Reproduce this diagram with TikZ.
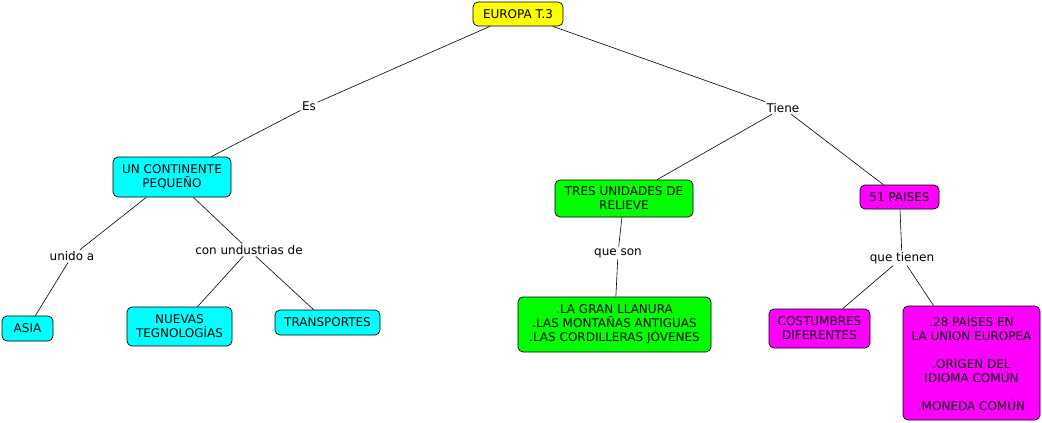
\documentclass[tikz,border=0pt]{standalone}
\usepackage{fontspec}
\setmainfont{DejaVu Sans}
\begin{document}
\begin{tikzpicture}[x=1pt,y=-1pt,
  font=\fontsize{12}{14}\selectfont,
  box/.style={draw=black, line width=0.7pt, rounded corners=5pt, align=center, inner sep=1pt},
  lbl/.style={inner sep=1.5pt, align=center},
  conn/.style={draw=black, line width=0.6pt}]
\useasboundingbox (0,0) rectangle (1042,423);
\definecolor{cy}{HTML}{00FFFF}
\definecolor{gr}{HTML}{00FF00}
\definecolor{mg}{HTML}{FF00FF}
\definecolor{ye}{HTML}{FFFF00}
\node[box, fill=ye, minimum width=90pt, minimum height=24pt] (eu) at (518,14) {EUROPA T.3};
\node[box, fill=cy, minimum width=118pt, minimum height=40pt] (cont) at (172,177) {UN CONTINENTE\\PEQUEÑO};
\node[box, fill=gr, minimum width=138pt, minimum height=37pt] (tres) at (624,198.5) {TRES UNIDADES DE\\RELIEVE};
\node[box, fill=mg, minimum width=79pt, minimum height=24pt] (paises) at (899.5,197) {51 PAISES};
\node[box, fill=cy, minimum width=51pt, minimum height=25pt] (asia) at (27.5,328.5) {ASIA};
\node[box, fill=cy, minimum width=105pt, minimum height=39pt] (nuevas) at (179.5,326.5) {NUEVAS\\TEGNOLOGÍAS};
\node[box, fill=cy, minimum width=105pt, minimum height=25pt] (transp) at (327.5,322.5) {TRANSPORTES};
\node[box, fill=gr, minimum width=193pt, minimum height=55pt] (llan) at (614.5,324.5) {.LA GRAN LLANURA\\.LAS MONTAÑAS ANTIGUAS\\.LAS CORDILLERAS JÓVENES};
\node[box, fill=mg, minimum width=101pt, minimum height=39pt] (cost) at (819.5,328.5) {COSTUMBRES\\DIFERENTES};
\node[box, fill=mg, minimum width=137pt, minimum height=114pt] (ue) at (971.5,363) {.28 PAÍSES EN\\LA UNION EUROPEA\\[14pt].ORIGEN DEL\\IDIOMA COMÚN\\[14pt].MONEDA COMÚN};
\node[lbl] (es) at (309,106) {Es};
\node[lbl] (tiene) at (783,108) {Tiene};
\node[lbl] (unido) at (72,256) {unido a};
\node[lbl] (con) at (249,250) {con undustrias de};
\node[lbl] (queson) at (618,253) {que son};
\node[lbl] (quet) at (902,258) {que tienen};
\draw[conn] (eu) -- (es);
\draw[conn] (es) -- (cont);
\draw[conn] (eu) -- (tiene);
\draw[conn] (tiene) -- (tres);
\draw[conn] (tiene) -- (paises);
\draw[conn] (cont) -- (unido);
\draw[conn] (unido) -- (asia);
\draw[conn] (cont) -- (con);
\draw[conn] (con) -- (nuevas);
\draw[conn] (con) -- (transp);
\draw[conn] (tres) -- (queson);
\draw[conn] (queson) -- (llan);
\draw[conn] (paises) -- (quet);
\draw[conn] (quet) -- (cost);
\draw[conn] (quet) -- (ue);
\end{tikzpicture}
\end{document}
